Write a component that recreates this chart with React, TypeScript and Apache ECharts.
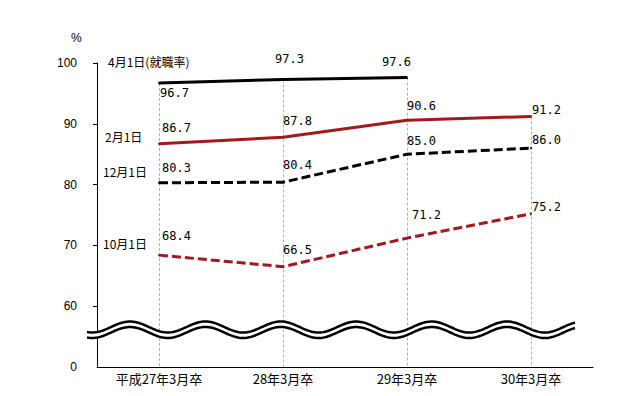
import React, { useEffect, useRef } from "react";
import * as echarts from "echarts";

const categories = ["平成27年3月卒", "28年3月卒", "29年3月卒", "30年3月卒"];
const seriesNames = ["4月1日(就職率)", "2月1日", "12月1日", "10月1日"];
const apr1 = [96.7, 97.3, 97.6, null];
const feb1 = [86.7, 87.8, 90.6, 91.2];
const dec1 = [80.3, 80.4, 85.0, 86.0];
const oct1 = [68.4, 66.5, 71.2, 75.2];
const axisMin = 50; // shown as "0" (broken axis)
const axisMax = 100;
const yTickValues = [60, 70, 80, 90, 100];

// label offsets (style only)
const aprOff = [[0, 10], [-9, -20], [-26, -16], [0, 0]];
const febOff = [[2, -16], [-1, -16], [-1, -14], [0, -7]];
const decOff = [[2, -15], [-1, -17], [-1, -13], [0, -8]];
const octOff = [[2, -19], [-1, -17], [4, -23], [0, -7]];

const RED = "#a3191f";
const BLACK = "#000000";

function mkData(vals: (number | null)[], offs: number[][]) {
  return vals.map((v, i) =>
    v == null ? "-" : { value: v, label: { offset: offs[i] } }
  );
}

export default function App() {
  const ref = useRef<HTMLDivElement>(null);
  useEffect(() => {
    if (!ref.current) return;
    const chart = echarts.init(ref.current, null, { renderer: "svg" });
    const all = [apr1, feb1, dec1, oct1];
    const tops = categories.map((_, i) =>
      Math.max(...all.map((s) => (s[i] == null ? -Infinity : (s[i] as number))))
    );

    // wave decoration
    const x0 = 87, x1 = 575, period = 75.4, crest = 130;
    const up: number[][] = [];
    const lo: number[][] = [];
    for (let x = x0; x <= x1 + 0.01; x += 2) {
      const c = Math.cos((2 * Math.PI * (x - crest)) / period);
      up.push([x, 327 - 5.5 * c]);
      lo.push([x, 332.5 - 5.5 * c]);
    }
    const poly = up.concat(lo.slice().reverse());

    const labelStyle = {
      show: true,
      position: "right" as const,
      distance: 0,
      fontFamily: "DejaVu Sans Mono",
      fontSize: 12,
      color: "#000",
      formatter: (p: any) => Number(p.value).toFixed(1),
    };
    const common = {
      type: "line" as const,
      symbol: "circle",
      symbolSize: 2,
      z: 3,
      label: labelStyle,
    };

    chart.setOption({
      animation: false,
      grid: { left: 97, right: 50, top: 63, bottom: 29, containLabel: false },
      xAxis: {
        type: "category",
        data: categories,
        boundaryGap: true,
        axisLine: { lineStyle: { color: "#000", width: 1 } },
        axisTick: { show: false },
        axisLabel: {
          color: "#000",
          fontFamily: "Noto Sans CJK JP",
          fontSize: 13,
          margin: 5,
        },
        splitLine: { show: false },
      },
      yAxis: {
        type: "value",
        min: axisMin,
        max: axisMax,
        interval: 10,
        axisLine: { show: true, lineStyle: { color: "#000", width: 1 } },
        axisTick: {
          show: true,
          length: 4,
          inside: false,
          customValues: yTickValues,
          lineStyle: { color: "#000" },
        },
        axisLabel: {
          color: "#000",
          fontFamily: "Liberation Sans",
          fontSize: 12,
          margin: 20,
          formatter: (v: number) => (v === axisMin ? "0" : String(v)),
        },
        splitLine: { show: false },
      },
      graphic: [
        {
          type: "text",
          left: 71,
          top: 32,
          style: { text: "%", fill: "#000", font: "12px Liberation Sans" },
        },
        {
          type: "text",
          x: 108, y: 61,
          style: { text: seriesNames[0], fill: "#000", font: "12px 'Noto Sans CJK JP'", verticalAlign: "middle" },
        },
        {
          type: "text",
          x: 105, y: 136,
          style: { text: seriesNames[1], fill: "#000", font: "12px 'Noto Sans CJK JP'", verticalAlign: "middle" },
        },
        {
          type: "text",
          x: 103, y: 171,
          style: { text: seriesNames[2], fill: "#000", font: "12px 'Noto Sans CJK JP'", verticalAlign: "middle" },
        },
        {
          type: "text",
          x: 103, y: 243,
          style: { text: seriesNames[3], fill: "#000", font: "12px 'Noto Sans CJK JP'", verticalAlign: "middle" },
        },
        {
          type: "polygon",
          z: 100,
          shape: { points: poly },
          style: { fill: "#fff", stroke: "none" },
        },
        {
          type: "polyline",
          z: 101,
          shape: { points: up },
          style: { stroke: "#000", lineWidth: 2.5, fill: "none" },
        },
        {
          type: "polyline",
          z: 101,
          shape: { points: lo },
          style: { stroke: "#000", lineWidth: 2.5, fill: "none" },
        },
      ],
      series: [
        {
          ...common,
          name: seriesNames[0],
          data: mkData(apr1, aprOff),
          itemStyle: { color: BLACK },
          lineStyle: { color: BLACK, width: 3 },
          markLine: {
            silent: true,
            z: 1,
            symbol: ["none", "none"],
            label: { show: false },
            lineStyle: { color: "#b0b0b0", width: 1, type: [3, 2] },
            data: categories.map((_, i) => [
              { coord: [i, tops[i]] },
              { coord: [i, axisMin] },
            ]),
          },
        },
        {
          ...common,
          name: seriesNames[1],
          data: mkData(feb1, febOff),
          itemStyle: { color: RED },
          lineStyle: { color: RED, width: 3 },
        },
        {
          ...common,
          name: seriesNames[2],
          data: mkData(dec1, decOff),
          itemStyle: { color: BLACK },
          lineStyle: { color: BLACK, width: 3, type: [9, 4] },
        },
        {
          ...common,
          name: seriesNames[3],
          data: mkData(oct1, octOff),
          itemStyle: { color: RED },
          lineStyle: { color: RED, width: 3, type: [9, 4] },
        },
      ],
    });
    return () => chart.dispose();
  }, []);
  return (
    <div
      ref={ref}
      style={{ position: "fixed", left: 0, top: 0, width: 643, height: 396, background: "#fff" }}
    />
  );
}
